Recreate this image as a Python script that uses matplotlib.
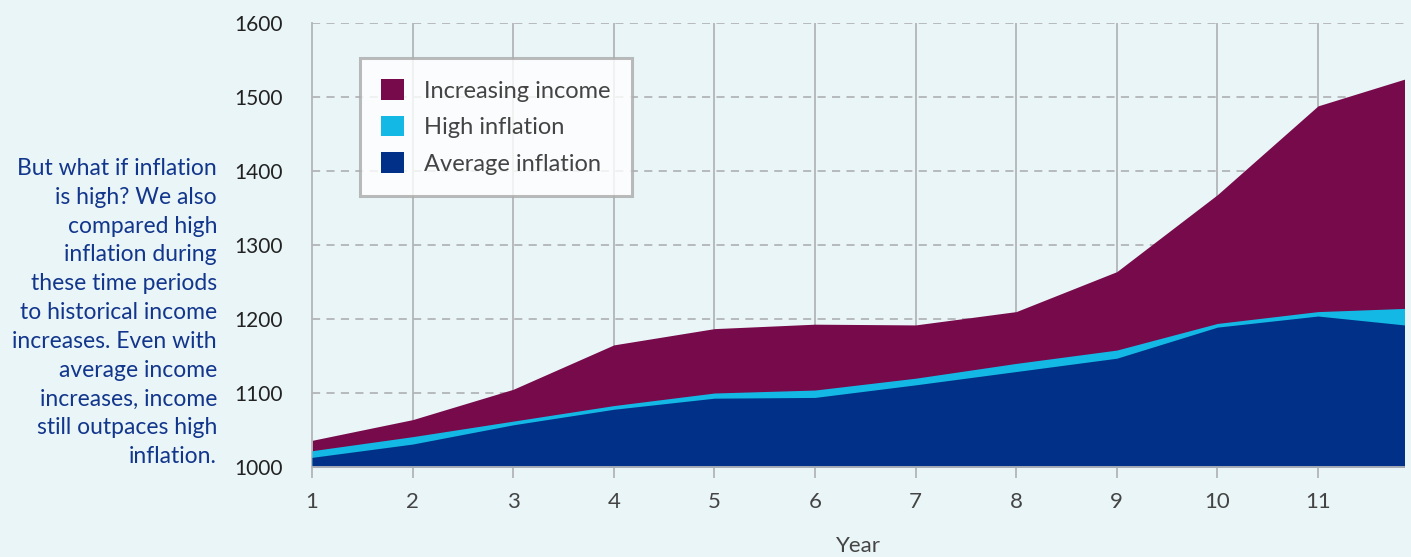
import matplotlib.pyplot as plt
from matplotlib.patches import Patch

# values (year 12 is cut off by the x-limit)
years = [1, 2, 3, 4, 5, 6, 7, 8, 9, 10, 11, 12]
increasing_income = [1036, 1064, 1105, 1165, 1187, 1193, 1192, 1210, 1264, 1368, 1488, 1530]
high_inflation = [1022, 1041, 1062, 1083, 1100, 1104, 1120, 1140, 1158, 1194, 1210, 1215]
average_inflation = [1013, 1031, 1057, 1078, 1093, 1094, 1111, 1129, 1147, 1189, 1204, 1190]
y_ticks = [1000, 1100, 1200, 1300, 1400, 1500, 1600]
x_ticks = [1, 2, 3, 4, 5, 6, 7, 8, 9, 10, 11]

bg = '#eaf5f7'
c_income = '#770a4a'
c_high = '#14b8e4'
c_avg = '#003087'
grid_c = '#b3b5b8'

plt.rcParams['font.family'] = ['Lato', 'DejaVu Sans']

fig = plt.figure(figsize=(14.11, 5.57), dpi=100, facecolor=bg)
ax = fig.add_axes([312/1411, 1 - 467/557, (1404 - 312)/1411, (467 - 23)/557])
ax.set_facecolor(bg)

ax.fill_between(years, 1000, increasing_income, color=c_income, lw=0, zorder=2)
ax.fill_between(years, 1000, high_inflation, color=c_high, lw=0, zorder=3)
ax.fill_between(years, 1000, average_inflation, color=c_avg, lw=0, zorder=4)

ax.set_xlim(1, 11.855)
ax.set_ylim(1000, 1600)

for yv in y_ticks[1:]:
    ax.axhline(yv, color=grid_c, lw=1.3, ls=(0, (4.5, 3.5)), zorder=1)
for xv in x_ticks[1:]:
    ax.axvline(xv, color=grid_c, lw=1.3, zorder=1)

for s in ['top', 'right']:
    ax.spines[s].set_visible(False)
ax.spines['left'].set_color(grid_c)
ax.spines['left'].set_linewidth(1.3)
ax.spines['bottom'].set_color(grid_c)
ax.spines['bottom'].set_linewidth(1.3)
ax.spines['bottom'].set_zorder(5)

ax.set_xticks(x_ticks)
ax.set_yticks(y_ticks)
ax.tick_params(axis='x', colors=grid_c, length=8, width=1.3, labelcolor='#444444',
               labelsize=16, pad=10)
ax.tick_params(axis='y', length=0, labelcolor='#222222', labelsize=15, pad=21)
ax.set_xlabel('Year', fontsize=16, color='#444444', labelpad=17)

handles = [Patch(facecolor=c_income, edgecolor='none', label='Increasing income'),
           Patch(facecolor=c_high, edgecolor='none', label='High inflation'),
           Patch(facecolor=c_avg, edgecolor='none', label='Average inflation')]
leg = ax.legend(handles=handles, loc='upper left', bbox_to_anchor=(0.044, 0.921),
                fontsize=17, frameon=True, fancybox=False, handlelength=0.95,
                handleheight=0.95, handletextpad=0.85, labelspacing=0.6,
                borderpad=0.9, borderaxespad=0, labelcolor='#444444')
leg.get_frame().set_edgecolor('#aaaaaa')
leg.get_frame().set_linewidth(2.2)
leg.get_frame().set_facecolor('white')
leg.set_zorder(10)

note = ('But what if inflation\nis high? We also\ncompared high\ninflation during\n'
        'these time periods\nto historical income\nincreases. Even with\naverage income\n'
        'increases, income\nstill outpaces high\ninflation.')
fig.text(217/1411, 1 - 158/557, note, ha='right', va='top', fontsize=16.5,
         color='#12368c', linespacing=1.46)

fig.savefig('out.png', dpi=100, facecolor=bg)
